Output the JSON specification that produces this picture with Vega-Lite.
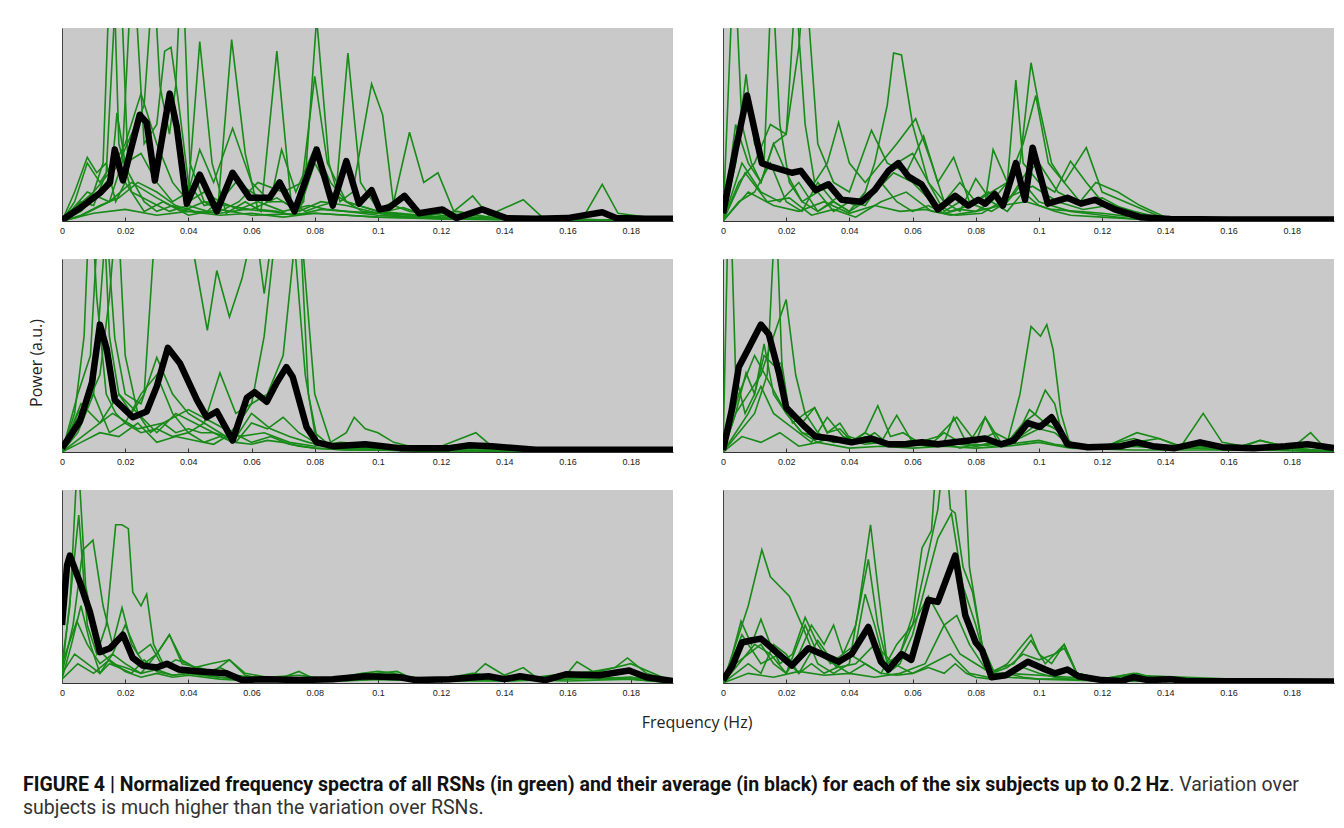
{
"$schema": "https://vega.github.io/schema/vega-lite/v6.json",
"padding": {"left": 23, "top": 28, "right": 5, "bottom": 5},
"background": "white",
"config": {"view": {"stroke": null}, "font": "Liberation Sans"},
"spacing": 44,
"vconcat": [
{
"data": {"values": [
{"r":1,"c":1,"s":"a1","k":"g","p":[[0,0],[0.005,0.05],[0.01,0.15],[0.013,0.3],[0.0158,1.6],[0.018,0.4],[0.022,0.15],[0.028,0.1],[0.034,0.05],[0.04,0.08],[0.046,0.05],[0.0495,0.1],[0.0537,0.94],[0.058,0.35],[0.062,0.06],[0.068,0.05],[0.073,0.03],[0.0765,0.1],[0.0806,1.05],[0.0845,0.3],[0.088,0.1],[0.092,0.15],[0.098,0.71],[0.1015,0.55],[0.105,0.08],[0.11,0.05],[0.12,0.03],[0.13,0.02],[0.15,0.01],[0.194,0]]},
{"r":1,"c":1,"s":"a2","k":"g","p":[[0,0],[0.006,0.1],[0.01,0.08],[0.014,0.25],[0.018,1.5],[0.021,0.25],[0.026,0.1],[0.03,0.05],[0.035,0.08],[0.0395,0.05],[0.0436,0.93],[0.0475,0.3],[0.052,0.04],[0.058,0.1],[0.063,0.05],[0.068,0.88],[0.0725,0.1],[0.077,0.05],[0.082,0.08],[0.0865,0.1],[0.0905,0.87],[0.0945,0.2],[0.1,0.06],[0.105,0.1],[0.11,0.46],[0.1145,0.2],[0.119,0.25],[0.124,0.05],[0.13,0.13],[0.135,0.03],[0.146,0.11],[0.152,0.02],[0.165,0.02],[0.171,0.19],[0.176,0.04],[0.194,0]]},
{"r":1,"c":1,"s":"a3","k":"g","p":[[0,0],[0.005,0.02],[0.01,0.06],[0.015,0.1],[0.019,0.3],[0.0224,1.4],[0.026,0.4],[0.03,0.5],[0.0325,0.88],[0.0345,0.9],[0.037,0.6],[0.04,0.2],[0.045,0.08],[0.05,0.1],[0.056,0.06],[0.062,0.1],[0.07,0.05],[0.078,0.08],[0.084,0.06],[0.09,0.05],[0.1,0.04],[0.11,0.03],[0.12,0.02],[0.194,0]]},
{"r":1,"c":1,"s":"a4","k":"g","p":[[0,0],[0.006,0.05],[0.012,0.15],[0.018,0.3],[0.022,0.45],[0.026,0.6],[0.029,1.3],[0.031,0.7],[0.034,0.45],[0.036,0.7],[0.038,1.4],[0.0405,0.3],[0.045,0.1],[0.05,0.05],[0.056,0.1],[0.062,0.2],[0.07,0.15],[0.076,0.2],[0.08,0.75],[0.084,0.3],[0.09,0.1],[0.1,0.05],[0.11,0.03],[0.12,0.02],[0.194,0]]},
{"r":1,"c":1,"s":"a5","k":"g","p":[[0,0],[0.004,0.1],[0.008,0.3],[0.012,0.2],[0.016,0.3],[0.0174,0.56],[0.02,0.3],[0.025,0.35],[0.03,0.2],[0.035,0.1],[0.04,0.15],[0.0436,0.37],[0.048,0.2],[0.054,0.48],[0.06,0.2],[0.066,0.1],[0.0695,0.37],[0.074,0.15],[0.08,0.38],[0.085,0.2],[0.09,0.1],[0.1,0.05],[0.12,0.02],[0.194,0]]},
{"r":1,"c":1,"s":"a6","k":"g","p":[[0,0],[0.005,0.08],[0.01,0.15],[0.015,0.25],[0.02,0.4],[0.025,0.66],[0.03,0.4],[0.035,0.2],[0.04,0.1],[0.045,0.15],[0.05,0.1],[0.055,0.2],[0.06,0.15],[0.065,0.1],[0.07,0.1],[0.075,0.05],[0.08,0.3],[0.085,0.15],[0.09,0.1],[0.095,0.05],[0.1,0.04],[0.11,0.02],[0.12,0.01],[0.194,0]]},
{"r":1,"c":1,"s":"a7","k":"g","p":[[0,0],[0.008,0.15],[0.015,0.1],[0.022,0.2],[0.03,0.12],[0.038,0.05],[0.045,0.1],[0.052,0.08],[0.06,0.06],[0.068,0.12],[0.075,0.05],[0.082,0.1],[0.09,0.08],[0.1,0.04],[0.108,0.07],[0.115,0.03],[0.125,0.05],[0.135,0.02],[0.145,0.01],[0.194,0]]},
{"r":1,"c":1,"s":"a8","k":"g","p":[[0,0],[0.006,0.03],[0.012,0.08],[0.018,0.12],[0.024,0.2],[0.03,0.15],[0.036,0.08],[0.042,0.05],[0.05,0.04],[0.058,0.06],[0.066,0.05],[0.074,0.03],[0.082,0.06],[0.09,0.05],[0.1,0.03],[0.11,0.02],[0.12,0.04],[0.13,0.03],[0.14,0.01],[0.194,0]]},
{"r":1,"c":1,"s":"a9","k":"g","p":[[0,0],[0.01,0.04],[0.02,0.06],[0.03,0.03],[0.04,0.05],[0.05,0.03],[0.06,0.04],[0.07,0.02],[0.08,0.04],[0.09,0.03],[0.1,0.02],[0.12,0.01],[0.194,0]]},
{"r":1,"c":1,"s":"a10","k":"g","p":[[0,0],[0.004,0.15],[0.008,0.33],[0.011,0.25],[0.014,0.3],[0.017,0.1],[0.02,0.2],[0.026,0.05],[0.032,0.1],[0.04,0.03],[0.05,0.06],[0.06,0.03],[0.08,0.04],[0.1,0.02],[0.194,0]]},
{"r":1,"c":1,"s":"ab","k":"b","p":[[0,0.005],[0.0057,0.067],[0.012,0.145],[0.0152,0.2],[0.0167,0.37],[0.0193,0.21],[0.0246,0.55],[0.0268,0.51],[0.0294,0.21],[0.0341,0.66],[0.0363,0.49],[0.0395,0.09],[0.0436,0.24],[0.049,0.05],[0.054,0.25],[0.0594,0.12],[0.0657,0.12],[0.0689,0.2],[0.0736,0.05],[0.0806,0.37],[0.0857,0.08],[0.09,0.31],[0.094,0.09],[0.098,0.16],[0.1005,0.06],[0.1036,0.07],[0.1084,0.13],[0.113,0.04],[0.1204,0.06],[0.1248,0.015],[0.133,0.06],[0.1406,0.015],[0.15,0.012],[0.16,0.015],[0.171,0.045],[0.1754,0.015],[0.185,0.012],[0.1934,0.012]]},
{"r":1,"c":2,"s":"b1","k":"g","p":[[0,0],[0.0035,1.4],[0.006,0.5],[0.009,0.3],[0.012,0.2],[0.016,0.4],[0.02,0.25],[0.025,0.1],[0.03,0.15],[0.035,0.05],[0.04,0.1],[0.045,0.08],[0.05,0.2],[0.055,0.1],[0.06,0.05],[0.065,0.08],[0.07,0.04],[0.075,0.06],[0.08,0.05],[0.085,0.1],[0.09,0.05],[0.095,0.15],[0.1,0.08],[0.105,0.05],[0.11,0.03],[0.12,0.02],[0.13,0.01],[0.14,0],[0.194,0]]},
{"r":1,"c":2,"s":"b2","k":"g","p":[[0,0],[0.004,0.3],[0.0073,0.76],[0.01,0.4],[0.013,0.3],[0.0155,1.3],[0.018,0.5],[0.021,0.2],[0.025,0.1],[0.03,0.05],[0.035,0.1],[0.04,0.05],[0.045,0.15],[0.048,0.3],[0.052,0.6],[0.054,0.87],[0.0565,0.86],[0.06,0.5],[0.065,0.2],[0.07,0.05],[0.075,0.1],[0.08,0.08],[0.085,0.05],[0.09,0.1],[0.095,0.2],[0.1,0.1],[0.11,0.05],[0.12,0.03],[0.13,0.01],[0.145,0],[0.194,0]]},
{"r":1,"c":2,"s":"b3","k":"g","p":[[0,0],[0.005,0.2],[0.01,0.3],[0.015,0.5],[0.02,0.45],[0.023,1.2],[0.026,0.5],[0.029,0.2],[0.033,0.3],[0.0366,0.51],[0.04,0.3],[0.045,0.2],[0.05,0.3],[0.055,0.4],[0.061,0.53],[0.066,0.3],[0.07,0.1],[0.075,0.2],[0.08,0.1],[0.085,0.15],[0.09,0.2],[0.0927,0.73],[0.095,0.3],[0.1,0.2],[0.105,0.15],[0.11,0.31],[0.115,0.2],[0.12,0.1],[0.13,0.05],[0.14,0.01],[0.194,0]]},
{"r":1,"c":2,"s":"b4","k":"g","p":[[0,0],[0.004,0.5],[0.008,0.3],[0.012,0.2],[0.016,0.4],[0.02,0.45],[0.024,0.9],[0.026,1.3],[0.03,0.4],[0.035,0.2],[0.04,0.15],[0.047,0.47],[0.052,0.3],[0.058,0.25],[0.0635,0.44],[0.068,0.2],[0.073,0.33],[0.078,0.1],[0.083,0.1],[0.0855,0.37],[0.09,0.2],[0.094,0.3],[0.0975,0.82],[0.1,0.6],[0.104,0.3],[0.108,0.2],[0.115,0.38],[0.12,0.15],[0.13,0.08],[0.14,0.01],[0.194,0]]},
{"r":1,"c":2,"s":"b5","k":"g","p":[[0,0],[0.005,0.1],[0.01,0.15],[0.015,0.3],[0.02,0.1],[0.025,0.05],[0.03,0.2],[0.035,0.1],[0.04,0.05],[0.045,0.1],[0.05,0.2],[0.055,0.3],[0.06,0.35],[0.065,0.2],[0.07,0.1],[0.075,0.05],[0.08,0.22],[0.085,0.1],[0.09,0.2],[0.095,0.4],[0.099,0.65],[0.103,0.3],[0.108,0.2],[0.113,0.1],[0.118,0.2],[0.125,0.15],[0.132,0.08],[0.14,0.02],[0.194,0]]},
{"r":1,"c":2,"s":"b6","k":"g","p":[[0,0],[0.006,0.3],[0.012,0.15],[0.018,0.1],[0.024,0.2],[0.03,0.05],[0.036,0.12],[0.042,0.08],[0.048,0.15],[0.054,0.25],[0.06,0.2],[0.066,0.1],[0.072,0.05],[0.078,0.08],[0.084,0.15],[0.09,0.1],[0.096,0.25],[0.1,0.3],[0.106,0.15],[0.112,0.1],[0.12,0.12],[0.128,0.05],[0.136,0.02],[0.194,0]]},
{"r":1,"c":2,"s":"b7","k":"g","p":[[0,0],[0.008,0.15],[0.016,0.08],[0.024,0.05],[0.032,0.1],[0.04,0.04],[0.048,0.08],[0.056,0.05],[0.064,0.06],[0.072,0.03],[0.08,0.05],[0.088,0.08],[0.096,0.1],[0.104,0.06],[0.112,0.05],[0.12,0.04],[0.13,0.02],[0.14,0.01],[0.194,0]]},
{"r":1,"c":2,"s":"b8","k":"g","p":[[0,0],[0.007,0.25],[0.014,0.1],[0.021,0.12],[0.028,0.03],[0.035,0.06],[0.042,0.02],[0.05,0.1],[0.058,0.15],[0.066,0.05],[0.074,0.03],[0.082,0.04],[0.09,0.12],[0.098,0.18],[0.106,0.1],[0.114,0.06],[0.122,0.08],[0.13,0.04],[0.14,0.01],[0.194,0]]},
{"r":1,"c":2,"s":"bb","k":"b","p":[[0,0.04],[0.004,0.37],[0.0076,0.65],[0.0123,0.3],[0.0155,0.28],[0.0218,0.25],[0.0246,0.26],[0.0293,0.16],[0.0334,0.19],[0.0375,0.11],[0.0438,0.1],[0.048,0.16],[0.0524,0.26],[0.0555,0.3],[0.0587,0.23],[0.0628,0.19],[0.068,0.06],[0.0735,0.13],[0.0776,0.08],[0.0808,0.11],[0.083,0.09],[0.086,0.14],[0.0886,0.08],[0.0927,0.3],[0.0956,0.11],[0.098,0.38],[0.1028,0.09],[0.109,0.12],[0.1133,0.09],[0.1177,0.11],[0.124,0.06],[0.132,0.02],[0.1416,0.01],[0.16,0.008],[0.1934,0.008]]},
{"r":2,"c":1,"s":"c1","k":"g","p":[[0,0],[0.004,0.2],[0.007,0.6],[0.009,1.4],[0.011,0.8],[0.014,0.3],[0.017,0.2],[0.02,0.15],[0.025,0.1],[0.03,0.12],[0.035,0.08],[0.04,0.1],[0.045,0.05],[0.05,0.08],[0.055,0.05],[0.06,0.04],[0.065,0.06],[0.07,0.05],[0.075,0.03],[0.08,0.02],[0.09,0.01],[0.1,0.01],[0.12,0],[0.194,0]]},
{"r":2,"c":1,"s":"c2","k":"g","p":[[0,0],[0.005,0.3],[0.009,0.5],[0.0125,1.5],[0.015,0.6],[0.018,0.3],[0.022,0.2],[0.026,0.3],[0.03,1.3],[0.034,1.5],[0.038,1.4],[0.042,1.0],[0.046,0.63],[0.049,0.94],[0.053,0.7],[0.057,0.9],[0.061,1.2],[0.064,0.82],[0.068,1.3],[0.072,1.5],[0.075,1.3],[0.078,0.3],[0.081,0.05],[0.085,0.03],[0.09,0.02],[0.1,0.01],[0.194,0]]},
{"r":2,"c":1,"s":"c3","k":"g","p":[[0,0],[0.005,0.1],[0.01,0.3],[0.014,1.2],[0.0167,0.59],[0.02,0.3],[0.025,0.25],[0.03,0.49],[0.035,0.3],[0.04,0.2],[0.045,0.15],[0.05,0.41],[0.055,0.2],[0.06,0.25],[0.065,0.3],[0.07,0.5],[0.075,1.3],[0.08,0.3],[0.085,0.05],[0.09,0.1],[0.0925,0.18],[0.096,0.12],[0.1,0.1],[0.105,0.05],[0.11,0.03],[0.12,0.02],[0.194,0]]},
{"r":2,"c":1,"s":"c4","k":"g","p":[[0,0],[0.004,0.15],[0.008,0.25],[0.012,0.4],[0.015,0.8],[0.0175,1.3],[0.02,0.5],[0.024,0.2],[0.028,0.1],[0.032,0.15],[0.036,0.1],[0.04,0.12],[0.044,0.1],[0.048,0.1],[0.052,0.08],[0.056,0.15],[0.06,0.25],[0.064,0.6],[0.068,1.2],[0.071,1.5],[0.074,1.0],[0.077,0.4],[0.08,0.1],[0.085,0.03],[0.09,0.02],[0.1,0.01],[0.194,0]]},
{"r":2,"c":1,"s":"c5","k":"g","p":[[0,0],[0.005,0.2],[0.01,0.3],[0.015,0.1],[0.02,0.15],[0.025,0.3],[0.03,0.4],[0.035,0.2],[0.04,0.1],[0.045,0.15],[0.05,0.1],[0.055,0.05],[0.06,0.15],[0.065,0.12],[0.07,0.18],[0.075,0.1],[0.08,0.05],[0.085,0.03],[0.09,0.02],[0.1,0.03],[0.11,0.02],[0.12,0.03],[0.131,0.1],[0.136,0.03],[0.14,0.01],[0.194,0]]},
{"r":2,"c":1,"s":"c6","k":"g","p":[[0,0],[0.006,0.25],[0.012,0.15],[0.018,0.3],[0.024,0.2],[0.03,0.1],[0.036,0.2],[0.042,0.15],[0.048,0.1],[0.054,0.05],[0.06,0.2],[0.066,0.12],[0.072,0.08],[0.078,0.05],[0.084,0.03],[0.09,0.02],[0.1,0.02],[0.12,0.01],[0.194,0]]},
{"r":2,"c":1,"s":"c7","k":"g","p":[[0,0],[0.008,0.1],[0.016,0.2],[0.024,0.12],[0.032,0.15],[0.04,0.22],[0.048,0.15],[0.056,0.08],[0.064,0.1],[0.072,0.05],[0.08,0.03],[0.088,0.05],[0.096,0.04],[0.104,0.02],[0.12,0.01],[0.194,0]]},
{"r":2,"c":1,"s":"c8","k":"g","p":[[0,0],[0.006,0.05],[0.012,0.1],[0.018,0.08],[0.024,0.15],[0.03,0.05],[0.036,0.08],[0.042,0.06],[0.048,0.04],[0.054,0.1],[0.06,0.05],[0.066,0.08],[0.072,0.04],[0.08,0.02],[0.09,0.01],[0.1,0.01],[0.194,0]]},
{"r":2,"c":1,"s":"cb","k":"b","p":[[0,0.02],[0.0057,0.16],[0.0095,0.36],[0.012,0.66],[0.0142,0.53],[0.0167,0.27],[0.0224,0.18],[0.0268,0.21],[0.03,0.34],[0.0335,0.54],[0.0373,0.46],[0.0427,0.27],[0.0458,0.18],[0.049,0.21],[0.054,0.06],[0.0585,0.28],[0.061,0.31],[0.0648,0.26],[0.068,0.36],[0.071,0.44],[0.073,0.39],[0.0774,0.13],[0.0806,0.05],[0.0857,0.03],[0.096,0.04],[0.107,0.02],[0.1226,0.02],[0.129,0.035],[0.136,0.03],[0.15,0.012],[0.1934,0.012]]},
{"r":2,"c":2,"s":"d1","k":"g","p":[[0,0],[0.002,1.5],[0.004,0.4],[0.007,0.2],[0.01,0.3],[0.013,0.56],[0.016,0.3],[0.02,0.2],[0.025,0.1],[0.03,0.05],[0.035,0.08],[0.04,0.05],[0.045,0.1],[0.05,0.05],[0.055,0.19],[0.06,0.05],[0.065,0.03],[0.07,0.1],[0.075,0.05],[0.08,0.03],[0.085,0.05],[0.09,0.04],[0.095,0.05],[0.1,0.06],[0.105,0.04],[0.11,0.03],[0.12,0.02],[0.13,0.03],[0.14,0.02],[0.15,0.03],[0.16,0.02],[0.17,0.03],[0.18,0.02],[0.194,0]]},
{"r":2,"c":2,"s":"d2","k":"g","p":[[0,0],[0.005,0.1],[0.01,0.2],[0.014,0.4],[0.0167,1.3],[0.019,0.3],[0.022,0.15],[0.026,0.2],[0.03,0.1],[0.035,0.05],[0.04,0.08],[0.045,0.05],[0.05,0.05],[0.055,0.03],[0.06,0.05],[0.065,0.03],[0.07,0.05],[0.073,0.18],[0.077,0.05],[0.08,0.05],[0.083,0.18],[0.087,0.05],[0.09,0.05],[0.094,0.3],[0.0975,0.65],[0.1005,0.6],[0.1025,0.66],[0.1045,0.53],[0.107,0.2],[0.11,0.03],[0.12,0.02],[0.13,0.03],[0.14,0.02],[0.15,0.03],[0.16,0.02],[0.17,0.01],[0.18,0.02],[0.194,0]]},
{"r":2,"c":2,"s":"d3","k":"g","p":[[0,0],[0.004,0.2],[0.008,0.3],[0.012,0.4],[0.016,0.6],[0.02,0.79],[0.023,0.4],[0.026,0.2],[0.029,0.23],[0.033,0.1],[0.037,0.12],[0.041,0.05],[0.045,0.08],[0.05,0.05],[0.055,0.04],[0.06,0.06],[0.065,0.03],[0.07,0.05],[0.08,0.03],[0.09,0.05],[0.095,0.15],[0.099,0.2],[0.102,0.32],[0.105,0.25],[0.108,0.05],[0.112,0.03],[0.12,0.02],[0.131,0.1],[0.138,0.07],[0.145,0.03],[0.152,0.2],[0.158,0.05],[0.165,0.03],[0.17,0.06],[0.18,0.02],[0.186,0.1],[0.19,0.03],[0.194,0]]},
{"r":2,"c":2,"s":"d4","k":"g","p":[[0,0],[0.004,0.2],[0.0073,0.41],[0.01,0.3],[0.013,0.5],[0.016,0.45],[0.0186,0.46],[0.021,0.2],[0.025,0.15],[0.029,0.23],[0.033,0.1],[0.037,0.15],[0.041,0.05],[0.045,0.1],[0.049,0.24],[0.053,0.08],[0.057,0.1],[0.062,0.05],[0.068,0.08],[0.074,0.18],[0.08,0.05],[0.086,0.1],[0.092,0.05],[0.097,0.22],[0.102,0.15],[0.107,0.1],[0.112,0.02],[0.12,0.03],[0.13,0.07],[0.14,0.02],[0.15,0.03],[0.16,0.01],[0.17,0.06],[0.18,0.02],[0.194,0]]},
{"r":2,"c":2,"s":"d5","k":"g","p":[[0,0],[0.004,0.1],[0.008,0.2],[0.012,0.34],[0.016,0.2],[0.02,0.15],[0.024,0.1],[0.028,0.05],[0.033,0.18],[0.038,0.08],[0.043,0.05],[0.048,0.1],[0.053,0.03],[0.058,0.04],[0.063,0.06],[0.068,0.03],[0.073,0.04],[0.078,0.05],[0.083,0.18],[0.088,0.05],[0.094,0.08],[0.1,0.15],[0.106,0.12],[0.11,0.02],[0.12,0.03],[0.13,0.05],[0.138,0.07],[0.146,0.02],[0.154,0.04],[0.162,0.02],[0.17,0.03],[0.178,0.02],[0.186,0.04],[0.194,0]]},
{"r":2,"c":2,"s":"d6","k":"g","p":[[0,0],[0.005,0.3],[0.01,0.5],[0.015,0.35],[0.02,0.2],[0.025,0.1],[0.03,0.08],[0.035,0.05],[0.04,0.06],[0.045,0.04],[0.05,0.05],[0.055,0.03],[0.06,0.04],[0.065,0.03],[0.07,0.05],[0.075,0.02],[0.08,0.04],[0.085,0.03],[0.09,0.04],[0.095,0.08],[0.1,0.12],[0.105,0.1],[0.11,0.03],[0.12,0.02],[0.13,0.04],[0.14,0.02],[0.15,0.02],[0.16,0.01],[0.17,0.02],[0.18,0.01],[0.194,0]]},
{"r":2,"c":2,"s":"d7","k":"g","p":[[0,0],[0.006,0.08],[0.012,0.05],[0.018,0.1],[0.024,0.03],[0.03,0.05],[0.04,0.02],[0.05,0.03],[0.06,0.02],[0.07,0.03],[0.08,0.02],[0.09,0.03],[0.1,0.05],[0.11,0.02],[0.13,0.01],[0.15,0.01],[0.17,0.01],[0.194,0]]},
{"r":2,"c":2,"s":"db","k":"b","p":[[0,0.01],[0.0028,0.22],[0.005,0.44],[0.0082,0.54],[0.012,0.66],[0.0145,0.61],[0.0177,0.41],[0.02,0.23],[0.023,0.18],[0.026,0.13],[0.0293,0.08],[0.0344,0.07],[0.0407,0.05],[0.047,0.07],[0.0524,0.04],[0.0576,0.04],[0.063,0.05],[0.068,0.04],[0.073,0.05],[0.078,0.06],[0.083,0.07],[0.088,0.04],[0.092,0.06],[0.0965,0.15],[0.1003,0.13],[0.104,0.18],[0.106,0.13],[0.109,0.04],[0.1155,0.025],[0.126,0.03],[0.131,0.05],[0.136,0.03],[0.143,0.02],[0.151,0.05],[0.158,0.025],[0.168,0.02],[0.178,0.03],[0.185,0.04],[0.1934,0.02]]},
{"r":3,"c":1,"s":"e1","k":"g","p":[[0,0.1],[0.0025,0.4],[0.005,1.2],[0.0075,0.5],[0.01,0.3],[0.013,0.15],[0.016,0.1],[0.02,0.08],[0.025,0.05],[0.03,0.07],[0.035,0.04],[0.04,0.05],[0.05,0.03],[0.06,0.02],[0.07,0.02],[0.08,0.01],[0.09,0.02],[0.1,0.03],[0.11,0.02],[0.12,0.01],[0.13,0.02],[0.14,0.01],[0.15,0.02],[0.16,0.03],[0.17,0.02],[0.18,0.03],[0.194,0]]},
{"r":3,"c":1,"s":"e2","k":"g","p":[[0,0.05],[0.003,0.5],[0.0053,0.87],[0.008,0.3],[0.011,0.15],[0.014,0.3],[0.017,0.82],[0.019,0.82],[0.021,0.8],[0.0224,0.47],[0.025,0.4],[0.0268,0.46],[0.029,0.2],[0.032,0.1],[0.036,0.08],[0.04,0.06],[0.045,0.05],[0.05,0.05],[0.055,0.03],[0.06,0.02],[0.07,0.01],[0.08,0.02],[0.09,0.01],[0.1,0.02],[0.12,0.01],[0.14,0.02],[0.16,0.01],[0.18,0.02],[0.194,0]]},
{"r":3,"c":1,"s":"e3","k":"g","p":[[0,0.05],[0.0035,0.3],[0.0066,0.69],[0.0098,0.74],[0.013,0.4],[0.016,0.2],[0.019,0.39],[0.022,0.2],[0.026,0.1],[0.03,0.15],[0.034,0.25],[0.038,0.12],[0.042,0.08],[0.047,0.1],[0.053,0.12],[0.058,0.05],[0.065,0.03],[0.075,0.04],[0.085,0.02],[0.095,0.05],[0.1,0.06],[0.105,0.05],[0.11,0.03],[0.12,0.02],[0.13,0.04],[0.134,0.1],[0.14,0.04],[0.146,0.08],[0.15,0.03],[0.16,0.05],[0.163,0.11],[0.168,0.06],[0.175,0.08],[0.179,0.13],[0.185,0.05],[0.194,0]]},
{"r":3,"c":1,"s":"e4","k":"g","p":[[0,0.1],[0.0047,0.32],[0.008,0.2],[0.012,0.1],[0.016,0.15],[0.02,0.3],[0.024,0.15],[0.028,0.2],[0.032,0.08],[0.036,0.12],[0.04,0.1],[0.045,0.05],[0.05,0.08],[0.055,0.04],[0.06,0.03],[0.07,0.02],[0.08,0.01],[0.09,0.02],[0.1,0.04],[0.11,0.03],[0.12,0.02],[0.13,0.05],[0.14,0.03],[0.15,0.02],[0.16,0.05],[0.17,0.06],[0.18,0.1],[0.19,0.03],[0.194,0]]},
{"r":3,"c":1,"s":"e5","k":"g","p":[[0,0.05],[0.004,0.15],[0.008,0.1],[0.012,0.05],[0.016,0.15],[0.02,0.1],[0.025,0.05],[0.03,0.15],[0.034,0.25],[0.038,0.1],[0.043,0.08],[0.048,0.06],[0.053,0.12],[0.058,0.04],[0.064,0.02],[0.07,0.03],[0.075,0.06],[0.08,0.02],[0.09,0.02],[0.1,0.05],[0.106,0.06],[0.11,0.03],[0.12,0.02],[0.13,0.03],[0.14,0.02],[0.15,0.03],[0.16,0.04],[0.17,0.05],[0.18,0.06],[0.194,0]]},
{"r":3,"c":1,"s":"e6","k":"g","p":[[0,0.02],[0.005,0.1],[0.01,0.05],[0.015,0.12],[0.02,0.06],[0.025,0.03],[0.03,0.05],[0.035,0.03],[0.04,0.04],[0.05,0.02],[0.06,0.01],[0.08,0.01],[0.1,0.02],[0.12,0.01],[0.14,0.01],[0.16,0.02],[0.18,0.03],[0.194,0]]},
{"r":3,"c":1,"s":"e7","k":"g","p":[[0,0.02],[0.003,0.2],[0.006,0.4],[0.009,0.2],[0.012,0.05],[0.015,0.1],[0.018,0.08],[0.022,0.05],[0.026,0.12],[0.03,0.06],[0.035,0.04],[0.04,0.05],[0.05,0.03],[0.06,0.01],[0.08,0.01],[0.1,0.02],[0.12,0.01],[0.14,0.02],[0.16,0.03],[0.18,0.02],[0.194,0]]},
{"r":3,"c":1,"s":"eb","k":"b","p":[[0,0.3],[0.0016,0.61],[0.0025,0.66],[0.0057,0.52],[0.0088,0.37],[0.012,0.16],[0.0152,0.18],[0.0193,0.25],[0.0224,0.13],[0.0256,0.09],[0.03,0.08],[0.0332,0.1],[0.037,0.07],[0.0436,0.06],[0.052,0.05],[0.057,0.015],[0.0645,0.02],[0.075,0.015],[0.0857,0.02],[0.096,0.035],[0.107,0.03],[0.112,0.015],[0.1226,0.02],[0.135,0.035],[0.14,0.02],[0.145,0.035],[0.153,0.015],[0.1595,0.045],[0.17,0.04],[0.1795,0.065],[0.185,0.03],[0.1934,0.01]]},
{"r":3,"c":2,"s":"f1","k":"g","p":[[0,0],[0.004,0.2],[0.008,0.4],[0.0123,0.69],[0.015,0.55],[0.018,0.5],[0.021,0.45],[0.025,0.3],[0.03,0.1],[0.035,0.05],[0.04,0.1],[0.043,0.4],[0.0467,0.82],[0.049,0.5],[0.052,0.1],[0.056,0.15],[0.06,0.3],[0.064,0.6],[0.068,0.9],[0.072,1.5],[0.075,1.6],[0.078,0.6],[0.082,0.2],[0.086,0.05],[0.09,0.05],[0.095,0.03],[0.1,0.02],[0.11,0.02],[0.12,0.01],[0.13,0.02],[0.14,0.01],[0.16,0],[0.194,0]]},
{"r":3,"c":2,"s":"f2","k":"g","p":[[0,0],[0.003,0.15],[0.0057,0.32],[0.009,0.2],[0.012,0.33],[0.015,0.2],[0.018,0.1],[0.022,0.15],[0.026,0.34],[0.03,0.2],[0.034,0.1],[0.038,0.15],[0.042,0.3],[0.046,0.64],[0.049,0.3],[0.052,0.1],[0.056,0.15],[0.06,0.35],[0.063,0.7],[0.066,0.79],[0.069,1.5],[0.072,0.9],[0.0735,0.88],[0.076,0.6],[0.079,0.47],[0.082,0.2],[0.085,0.05],[0.09,0.1],[0.0975,0.25],[0.1,0.15],[0.104,0.1],[0.108,0.2],[0.112,0.05],[0.12,0.02],[0.13,0.05],[0.14,0.01],[0.194,0]]},
{"r":3,"c":2,"s":"f3","k":"g","p":[[0,0],[0.004,0.1],[0.008,0.15],[0.012,0.2],[0.016,0.1],[0.02,0.05],[0.024,0.15],[0.028,0.3],[0.032,0.2],[0.035,0.3],[0.038,0.15],[0.042,0.2],[0.045,0.46],[0.048,0.3],[0.052,0.05],[0.056,0.1],[0.06,0.25],[0.064,0.5],[0.068,0.75],[0.0723,0.88],[0.076,0.5],[0.08,0.3],[0.084,0.05],[0.088,0.08],[0.092,0.1],[0.0975,0.22],[0.102,0.1],[0.108,0.2],[0.112,0.05],[0.12,0.02],[0.131,0.05],[0.14,0.01],[0.194,0]]},
{"r":3,"c":2,"s":"f4","k":"g","p":[[0,0],[0.005,0.1],[0.01,0.2],[0.015,0.15],[0.02,0.05],[0.026,0.3],[0.03,0.15],[0.035,0.1],[0.04,0.05],[0.045,0.1],[0.05,0.05],[0.055,0.2],[0.06,0.3],[0.065,0.45],[0.07,0.3],[0.0723,0.23],[0.075,0.15],[0.08,0.1],[0.085,0.05],[0.09,0.08],[0.095,0.15],[0.1,0.12],[0.105,0.15],[0.108,0.18],[0.112,0.05],[0.12,0.02],[0.13,0.04],[0.194,0]]},
{"r":3,"c":2,"s":"f5","k":"g","p":[[0,0],[0.004,0.05],[0.008,0.1],[0.012,0.05],[0.016,0.2],[0.02,0.15],[0.024,0.05],[0.028,0.1],[0.032,0.05],[0.036,0.08],[0.04,0.15],[0.045,0.1],[0.05,0.05],[0.055,0.04],[0.06,0.05],[0.065,0.08],[0.07,0.05],[0.0735,0.1],[0.077,0.05],[0.08,0.03],[0.085,0.02],[0.09,0.05],[0.095,0.08],[0.1,0.05],[0.105,0.03],[0.11,0.02],[0.12,0.01],[0.13,0.02],[0.194,0]]},
{"r":3,"c":2,"s":"f6","k":"g","p":[[0,0],[0.006,0.25],[0.012,0.1],[0.018,0.15],[0.024,0.05],[0.03,0.22],[0.036,0.08],[0.042,0.1],[0.048,0.2],[0.054,0.1],[0.06,0.05],[0.066,0.1],[0.072,0.15],[0.078,0.05],[0.084,0.03],[0.09,0.05],[0.1,0.04],[0.11,0.03],[0.12,0.02],[0.13,0.01],[0.194,0]]},
{"r":3,"c":2,"s":"f7","k":"g","p":[[0,0],[0.008,0.05],[0.016,0.03],[0.024,0.06],[0.032,0.04],[0.04,0.05],[0.048,0.03],[0.056,0.05],[0.064,0.1],[0.07,0.3],[0.074,0.35],[0.078,0.2],[0.084,0.05],[0.09,0.03],[0.1,0.02],[0.12,0.01],[0.194,0]]},
{"r":3,"c":2,"s":"fb","k":"b","p":[[0,0.015],[0.003,0.09],[0.006,0.21],[0.0088,0.22],[0.012,0.23],[0.0155,0.18],[0.0218,0.09],[0.027,0.18],[0.0312,0.15],[0.0366,0.11],[0.0407,0.15],[0.046,0.29],[0.05,0.11],[0.0524,0.07],[0.0565,0.15],[0.0596,0.12],[0.065,0.43],[0.068,0.42],[0.0735,0.66],[0.0767,0.35],[0.08,0.21],[0.082,0.17],[0.085,0.03],[0.0896,0.04],[0.0965,0.11],[0.102,0.07],[0.105,0.05],[0.109,0.07],[0.1125,0.035],[0.12,0.015],[0.126,0.01],[0.13,0.03],[0.1345,0.015],[0.1416,0.02],[0.1465,0.01],[0.1934,0.008]]}
]},
"transform": [{"flatten": ["p"]}],
"facet": {
"row": {"field": "r", "type": "ordinal", "header": {"labels": false, "title": "Power (a.u.)", "titleOrient": "left", "titleFont": "Open Sans", "titleFontSize": 16, "titleFontWeight": "normal", "titleColor": "#222", "titlePadding": 4}},
"column": {"field": "c", "type": "ordinal", "header": {"labels": false, "title": "Frequency (Hz)", "titleOrient": "bottom", "titleFont": "Open Sans", "titleFontSize": 16, "titleFontWeight": "normal", "titleColor": "#222", "titlePadding": 8}}
},
"spacing": {"row": 24, "column": 47},
"resolve": {"axis": {"x": "independent", "y": "independent"}},
"spec": {
"width": 611,
"height": 193,
"view": {"fill": "#c9c9c9", "stroke": null},
"encoding": {
"x": {"field": "p[0]", "type": "quantitative", "scale": {"domain": [0, 0.1934], "nice": false, "zero": false},
"axis": {"values": [0, 0.02, 0.04, 0.06, 0.08, 0.1, 0.12, 0.14, 0.16, 0.18], "format": "~g", "title": null, "grid": false, "domainColor": "#333", "tickColor": "#333", "tickSize": -4, "labelPadding": 9, "labelFont": "Liberation Sans", "labelFontSize": 9, "labelColor": "#1a1a1a", "labelFlush": false, "labelOverlap": false}},
"y": {"field": "p[1]", "type": "quantitative", "scale": {"domain": [0, 1], "nice": false},
"axis": {"title": null, "labels": false, "ticks": false, "grid": false, "domainColor": "#444"}},
"detail": {"field": "s", "type": "nominal"}
},
"layer": [
{"transform": [{"filter": "datum.k == 'g'"}], "mark": {"type": "line", "color": "#178a17", "strokeWidth": 1.6, "clip": true}},
{"transform": [{"filter": "datum.k == 'b'"}], "mark": {"type": "line", "color": "#000000", "strokeWidth": 6.5, "strokeJoin": "round", "clip": true}}
]
}
},
{
"width": 1300,
"height": 23,
"view": {"stroke": null, "fill": null},
"data": {"values": [
{"t": "FIGURE 4 | Normalized frequency spectra of all RSNs (in green) and their average (in black) for each of the six subjects up to 0.2\u2009Hz", "x": 0, "y": 1, "w": "b"},
{"t": ". Variation over", "x": 0.8817, "y": 1, "w": "n"},
{"t": "subjects is much higher than the variation over RSNs.", "x": 0, "y": 0, "w": "n"}
]},
"encoding": {
"x": {"field": "x", "type": "quantitative", "scale": {"domain": [0, 1]}, "axis": null},
"y": {"field": "y", "type": "quantitative", "scale": {"domain": [0, 1]}, "axis": null},
"text": {"field": "t"}
},
"layer": [
{"transform": [{"filter": "datum.w == 'b'"}], "mark": {"type": "text", "align": "left", "baseline": "middle", "dx": -39, "font": "Roboto", "fontWeight": "bold", "fontSize": 19.5, "color": "#111"}},
{"transform": [{"filter": "datum.w == 'n'"}], "mark": {"type": "text", "align": "left", "baseline": "middle", "dx": -39, "font": "Roboto", "fontSize": 19.5, "color": "#333"}}
]
}
]
}
